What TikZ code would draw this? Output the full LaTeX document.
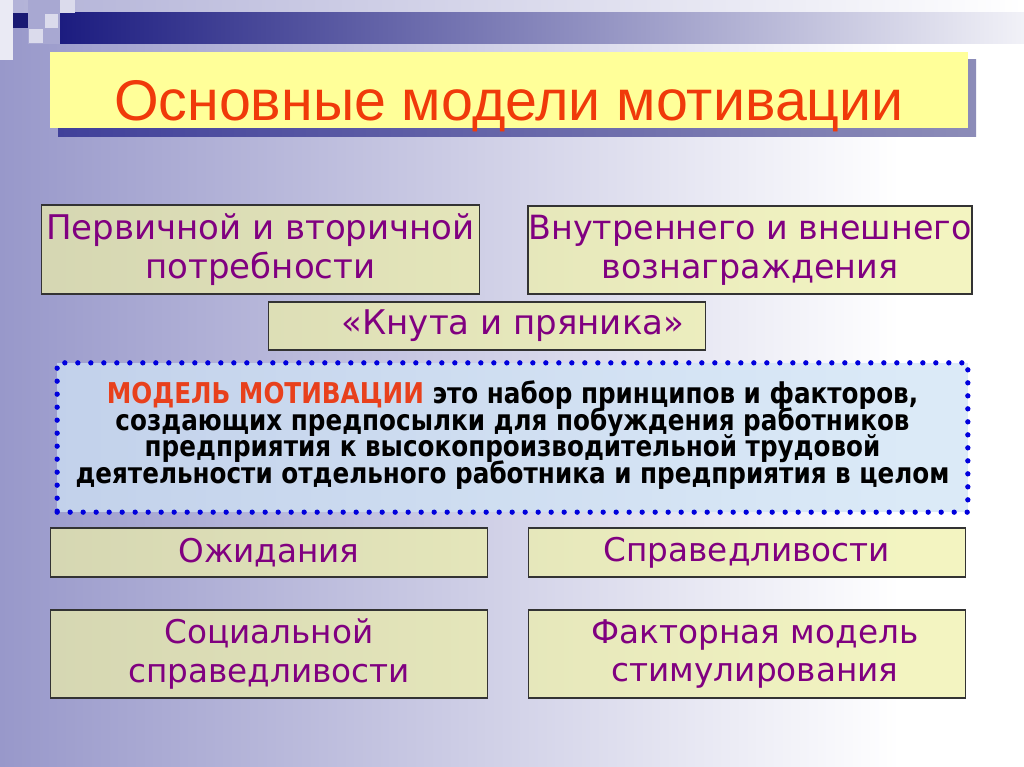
\documentclass[tikz,border=0pt]{standalone}
\usepackage{fontspec}
\setmainfont{DejaVu Sans}
\newfontfamily\titlefont{Liberation Sans}
\newfontfamily\deffont[FakeStretch=0.86]{DejaVu Sans}
\usepackage{xcolor}
\usepackage{tikz}

\newcommand\tightlines{\lineskiplimit=-100pt\relax}

\definecolor{bgleft}{HTML}{9898CA}
\definecolor{navy}{HTML}{1C1C80}
\definecolor{shadowleft}{HTML}{40409A}
\definecolor{shadowright}{HTML}{8C8CB8}
\definecolor{titleyellow}{HTML}{FFFF99}
\definecolor{titlered}{HTML}{F03A0A}
\definecolor{boxfill}{HTML}{EEF0A8}
\definecolor{textpurple}{HTML}{800080}
\definecolor{dotblue}{HTML}{0000DD}
\definecolor{deffill}{HTML}{CFE3F5}
\definecolor{defred}{HTML}{E8401C}

\tikzset{
  titlebox/.style={fill=titleyellow, text=titlered, inner sep=0pt,
    minimum width=688.5pt, minimum height=57pt, text height=51pt, text depth=6pt,
    font=\titlefont\fontsize{43}{43}\selectfont},
  modelbox/.style={draw=black!80, line width=0.9pt, fill=boxfill, fill opacity=0.7,
    text opacity=1, text=textpurple, align=center, inner sep=0pt,
    minimum width=328pt, font=\fontsize{25.5}{29}\selectfont},
  lowbox/.style={modelbox, font=\fontsize{24.5}{29}\selectfont},
  defbox/.style={draw=dotblue, line width=4pt, dash pattern=on 0pt off 9.75pt,
    line cap=round, fill=deffill, fill opacity=0.75, text opacity=1,
    align=center, inner sep=0pt, minimum width=683pt, minimum height=112pt,
    font=\deffont\bfseries\fontsize{21.5}{20}\selectfont\tightlines}
}

\begin{document}
\begin{tikzpicture}[x=0.75pt,y=-0.75pt]
    \useasboundingbox (0,0) rectangle (1024,767);
    % background
    \shade[left color=bgleft, right color=white] (0,0) rectangle (900,767);
    \fill[white] (899,0) rectangle (1024,767);
    \shade[left color=bgleft!75!white, right color=white] (0,0) rectangle (1024,13);
    \shade[left color=navy, right color=white!94!navy] (60,13) rectangle (1024,44);
    % corner squares
    \fill[white!80!bgleft] (0,0) rectangle (13,60);
    \fill[bgleft!85!white] (28,0) rectangle (60,44);
    \fill[navy!90!black] (13,13) rectangle (28,28);
    \fill[white!65!bgleft] (45,14) rectangle (58,28);
    \fill[white!65!bgleft] (60,0) rectangle (75,13);
    \fill[white!65!bgleft] (29,29) rectangle (43,43);

    % title
    \shade[left color=shadowleft, right color=shadowright] (58,60) rectangle (976,136);
    \node[titlebox] (title) at (509,90) {Основные модели мотивации};

    % models
    \node[modelbox, minimum height=66.75pt] (primary) at (260.5,249.5)
      {Первичной и вторичной\\потребности};
    \node[modelbox, minimum width=333pt, minimum height=66pt,
      font=\fontsize{25}{29}\selectfont] (reward) at (750,250)
      {Внутреннего и внешнего\\вознаграждения};
    \node[modelbox, minimum height=36pt] (carrot) at (487,326)
      {\hspace*{39pt}«Кнута и пряника»};

    \node[defbox] (def) at (512.5,437.5)
      {\textcolor{defred}{МОДЕЛЬ МОТИВАЦИИ} это набор принципов и факторов,\\
       создающих предпосылки для побуждения работников\\
       предприятия к высокопроизводительной трудовой\\
       деятельности отдельного работника и предприятия в целом\rule[-8pt]{0pt}{8pt}};

    \node[lowbox, minimum height=36.75pt] (expect) at (269,552.5) {Ожидания};
    \node[lowbox, minimum height=36.75pt] (justice) at (747,552.5) {Справедливости};
    \node[lowbox, minimum height=66pt] (social) at (269,654)
      {Социальной\\справедливости};
    \node[lowbox, minimum height=66pt] (factor) at (747,654)
      {\hspace*{12pt}Факторная модель\\\hspace*{12pt}стимулирования};
\end{tikzpicture}
\end{document}
